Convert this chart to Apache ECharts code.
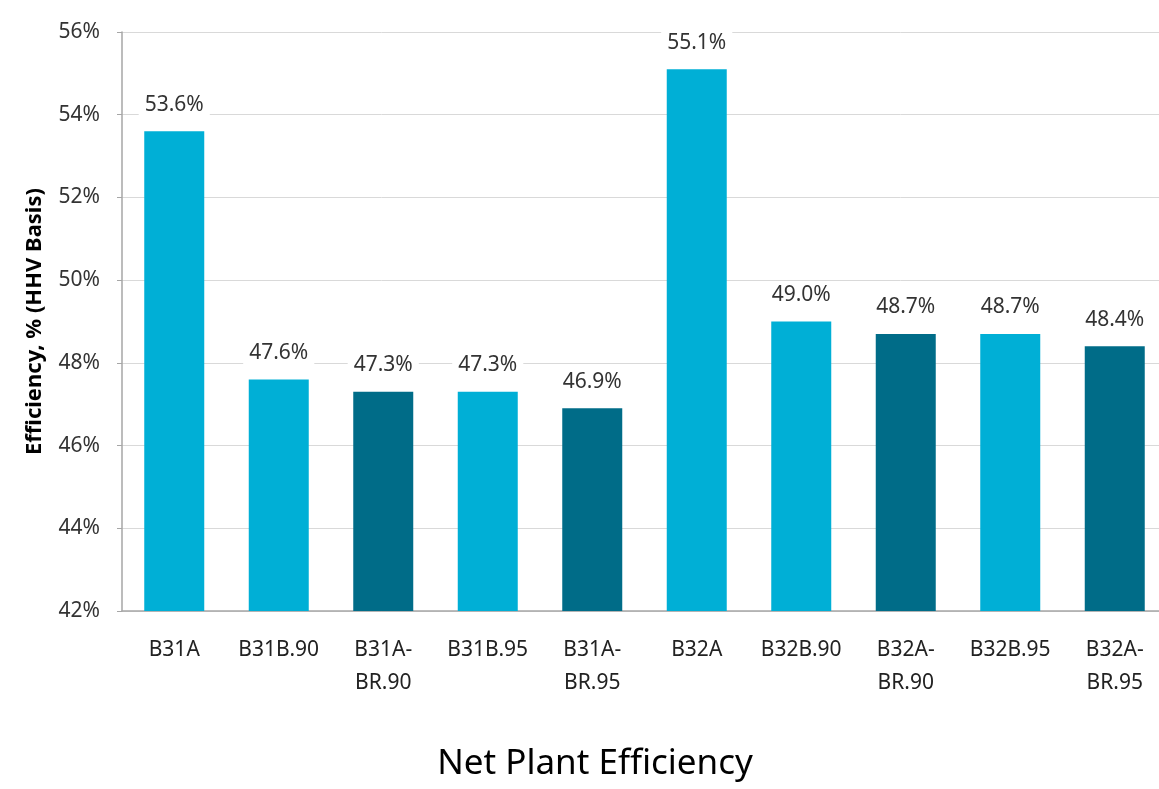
<!DOCTYPE html>
<html>
<head>
<meta charset="utf-8">
<script src="https://cdn.jsdelivr.net/npm/echarts@6/dist/echarts.min.js"></script>
<style>
  html, body { margin: 0; padding: 0; background: #fff; }
  #chart { width: 1159px; height: 789px; }
</style>
</head>
<body>
<div id="chart"></div>
<script>
// Plant configurations and their net efficiency (% HHV basis)
const categories = ['B31A', 'B31B.90', 'B31A-\nBR.90', 'B31B.95', 'B31A-\nBR.95',
                    'B32A', 'B32B.90', 'B32A-\nBR.90', 'B32B.95', 'B32A-\nBR.95'];
const efficiency = [53.6, 47.6, 47.3, 47.3, 46.9, 55.1, 49.0, 48.7, 48.7, 48.4];
const yTicks = { min: 42, max: 56, step: 2 };

const FONT = '"Noto Sans", "Open Sans", sans-serif';
const LIGHT = '#00AFD6';
const DARK = '#006C88';

const chart = echarts.init(document.getElementById('chart'), null, { renderer: 'canvas' });

chart.setOption({
  animation: false,
  backgroundColor: '#ffffff',
  title: {
    text: 'Net Plant Efficiency',
    left: 590,
    top: 742,
    textAlign: 'center',
    textStyle: { fontFamily: FONT, fontSize: 35, fontWeight: 'normal', color: '#000' }
  },
  // plot area runs slightly past the right edge of the canvas
  grid: {
    left: 122, top: 32, height: 579, width: 1045,
    containLabel: false, outerBoundsMode: 'none'
  },
  xAxis: {
    type: 'category',
    data: categories,
    axisLine: { lineStyle: { color: '#A6A6A6', width: 1.5 } },
    axisTick: { show: false },
    axisLabel: {
      fontFamily: FONT, fontSize: 21, color: '#222',
      margin: 23, lineHeight: 33, interval: 0
    }
  },
  yAxis: {
    type: 'value',
    min: yTicks.min,
    max: yTicks.max,
    interval: yTicks.step,
    name: 'Efficiency, % (HHV Basis)',
    nameLocation: 'middle',
    nameGap: 76,
    nameTextStyle: { fontFamily: FONT, fontSize: 22, fontWeight: 'bold', color: '#000' },
    axisLine: { show: true, lineStyle: { color: '#A6A6A6', width: 1.5 } },
    axisTick: { show: true, length: 5, lineStyle: { color: '#A6A6A6' } },
    splitLine: { show: true, lineStyle: { color: '#D9D9D9', width: 1 } },
    axisLabel: {
      fontFamily: FONT, fontSize: 21, color: '#333', margin: 22,
      formatter: '{value}%'
    }
  },
  series: [{
    type: 'bar',
    barWidth: 60,
    data: efficiency,
    itemStyle: {
      color: p => (categories[p.dataIndex].indexOf('BR') >= 0 ? DARK : LIGHT)
    },
    label: {
      show: true,
      position: 'top',
      distance: 14,
      fontFamily: FONT,
      fontSize: 21,
      color: '#333',
      backgroundColor: '#fff',
      padding: [2, 6],
      formatter: p => p.value.toFixed(1) + '%'
    }
  }]
});
</script>
</body>
</html>
